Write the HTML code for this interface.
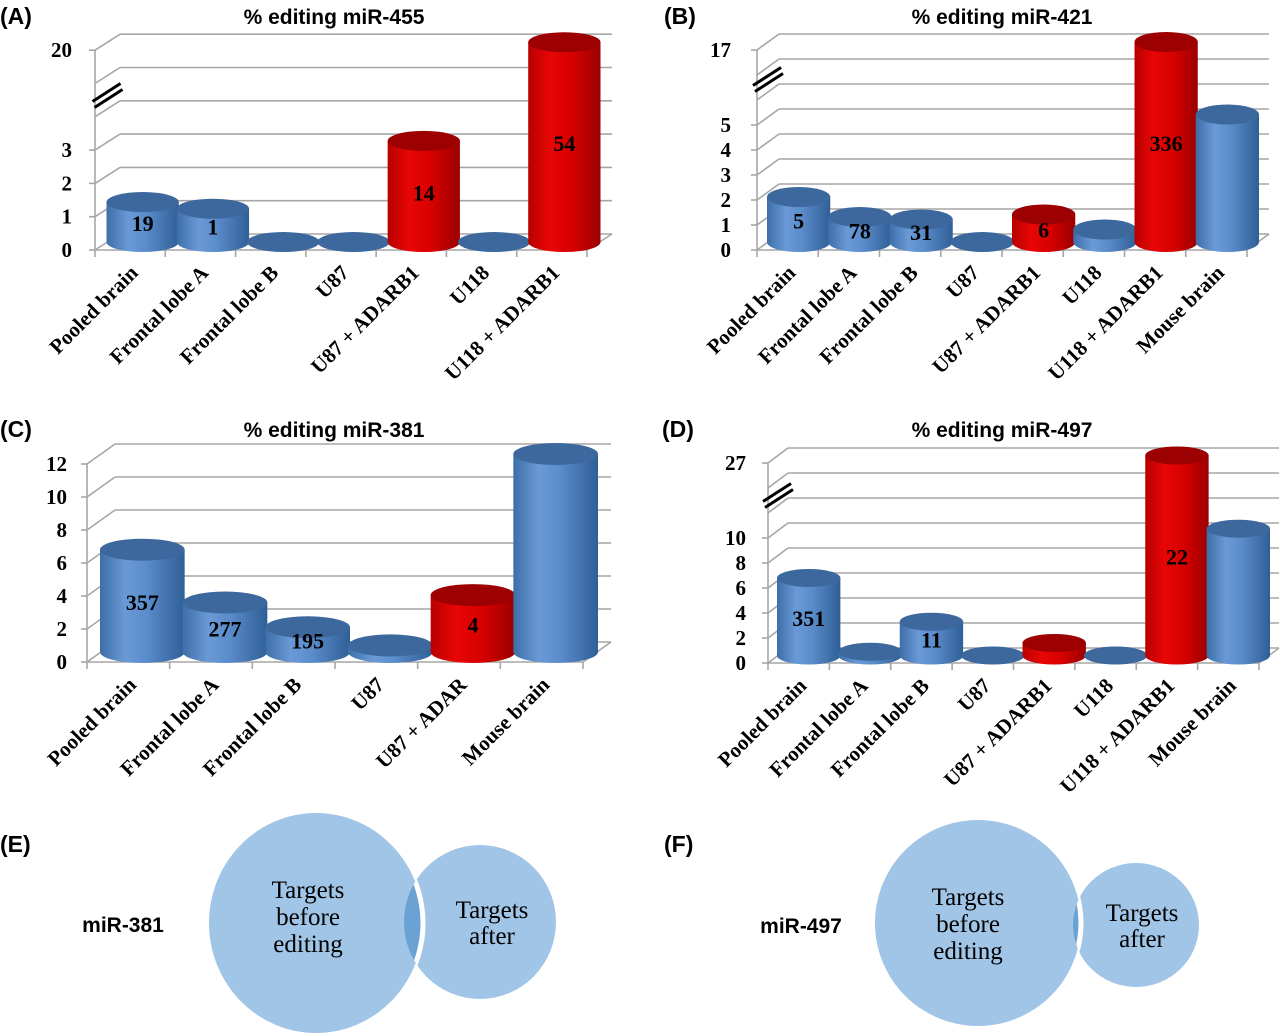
<!DOCTYPE html>
<html><head><meta charset="utf-8"><style>
html,body{margin:0;padding:0;background:#fff;}
svg{display:block;}
</style></head><body>
<svg id="fig" width="1280" height="1034" viewBox="0 0 1280 1034" xmlns="http://www.w3.org/2000/svg">
<defs>
<linearGradient id="gBlue" x1="0" x2="1" y1="0" y2="0">
<stop offset="0" stop-color="#3d6ea8"/><stop offset="0.3" stop-color="#6a9ad6"/><stop offset="0.55" stop-color="#5b8ccb"/><stop offset="1" stop-color="#2f5f96"/></linearGradient>
<linearGradient id="gRed" x1="0" x2="1" y1="0" y2="0">
<stop offset="0" stop-color="#b80000"/><stop offset="0.3" stop-color="#e80606"/><stop offset="0.6" stop-color="#d80000"/><stop offset="1" stop-color="#9a0000"/></linearGradient>
</defs>
<g id="charts"></g>
<g id="venns"></g>
</svg>
<script>
// ---- Data: panel A (miR-455)
const catsA = ['Pooled brain','Frontal lobe A','Frontal lobe B','U87','U87 + ADARB1','U118','U118 + ADARB1'];
const valsA = [1.2, 1.0, 0, 0, 3.2, 0, 20];
const redA = [0,0,0,0,1,0,1];
const barLabelsA = ['19','1','','','14','','54'];
const tickValsA = [0,1,2,3,20];
const tickLevelsA = [0,1,2,3,6];
// ---- Data: panel B (miR-421)
const catsB = ['Pooled brain','Frontal lobe A','Frontal lobe B','U87','U87 + ADARB1','U118','U118 + ADARB1','Mouse brain'];
const valsB = [1.8, 1.0, 0.9, 0, 1.1, 0.5, 17, 5.4];
const redB = [0,0,0,0,1,0,1,0];
const barLabelsB = ['5','78','31','','6','','336',''];
const tickValsB = [0,1,2,3,4,5,17];
const tickLevelsB = [0,1,2,3,4,5,8];
// ---- Data: panel C (miR-381)
const catsC = ['Pooled brain','Frontal lobe A','Frontal lobe B','U87','U87 + ADAR','Mouse brain'];
const valsC = [6.2, 3.0, 1.5, 0.4, 3.45, 12.4];
const redC = [0,0,0,0,1,0];
const barLabelsC = ['357','277','195','','4',''];
const tickValsC = [0,2,4,6,8,10,12];
const tickLevelsC = [0,1,2,3,4,5,6];
// ---- Data: panel D (miR-497)
const catsD = ['Pooled brain','Frontal lobe A','Frontal lobe B','U87','U87 + ADARB1','U118','U118 + ADARB1','Mouse brain'];
const valsD = [6.2, 0.3, 2.7, 0, 1.0, 0, 27, 10.4];
const redD = [0,0,0,0,1,0,1,0];
const barLabelsD = ['351','','11','','','','22',''];
const tickValsD = [0,2,4,6,8,10,27];
const tickLevelsD = [0,1,2,3,4,5,8];

const NS='http://www.w3.org/2000/svg';
function mk(tag, attrs, parent){const e=document.createElementNS(NS,tag);for(const k in attrs)e.setAttribute(k,attrs[k]);if(parent)parent.appendChild(e);return e;}

const panels=[
 {id:'a',letter:'(A)',lx:0,ly:24,title:'% editing miR-455',tx:334,ty:24,cats:catsA,vals:valsA,red:redA,lab:barLabelsA,tv:tickValsA,tl:tickLevelsA,
  x0:95,y0:250,x1:587,dx:25,dy:-16,lh:33.3,nl:6,tickX:72,brk:4.4,ry:10},
 {id:'b',letter:'(B)',lx:664,ly:24,title:'% editing miR-421',tx:1002,ty:24,cats:catsB,vals:valsB,red:redB,lab:barLabelsB,tv:tickValsB,tl:tickLevelsB,
  x0:757,y0:250,x1:1247,dx:22,dy:-16,lh:25,nl:8,tickX:731,brk:6.5,ry:10},
 {id:'c',letter:'(C)',lx:0,ly:437,title:'% editing miR-381',tx:334,ty:437,cats:catsC,vals:valsC,red:redC,lab:barLabelsC,tv:tickValsC,tl:tickLevelsC,
  x0:87,y0:662,x1:583,dx:28,dy:-20,lh:33,nl:6,tickX:67,brk:null,ry:11},
 {id:'d',letter:'(D)',lx:662,ly:437,title:'% editing miR-497',tx:1002,ty:437,cats:catsD,vals:valsD,red:redD,lab:barLabelsD,tv:tickValsD,tl:tickLevelsD,
  x0:768,y0:663,x1:1259,dx:20,dy:-15,lh:25,nl:8,tickX:746,brk:6.4,ry:9}
];

function levelOf(v,tv,tl){
  if(v<=tv[0])return tl[0];
  for(let i=1;i<tv.length;i++){ if(v<=tv[i]){const t=(v-tv[i-1])/(tv[i]-tv[i-1]);return tl[i-1]+t*(tl[i]-tl[i-1]);} }
  return tl[tl.length-1];
}

const root=document.getElementById('charts');
panels.forEach(p=>{
  const g=mk('g',{},root);
  
  
  const lt=mk('text',{x:p.lx,y:p.ly,'font-family':'Liberation Sans, sans-serif','font-weight':'bold','font-size':23,fill:'#000'},g);
  lt.textContent=p.letter;
  
  
  const tt=mk('text',{x:p.tx,y:p.ty,'text-anchor':'middle','font-family':'Liberation Sans, sans-serif','font-weight':'bold','font-size':21,fill:'#000'},g);
  tt.textContent=p.title;
  
  
  const yL=l=>p.y0-l*p.lh;
  const grid=mk('g',{stroke:'#a6a6a6','stroke-width':1.6,fill:'none'},g);
  
  
  for(let l=0;l<=p.nl;l++){
    const y=yL(l);
    mk('line',{x1:p.x0+p.dx,y1:y+p.dy,x2:p.x1+p.dx,y2:y+p.dy},grid);
    mk('line',{x1:p.x0,y1:y,x2:p.x0+p.dx,y2:y+p.dy},grid);
  }
  mk('line',{x1:p.x0,y1:p.y0,x2:p.x0,y2:yL(p.nl)},grid);
  mk('line',{x1:p.x0,y1:p.y0,x2:p.x1,y2:p.y0},grid);
  mk('line',{x1:p.x1,y1:p.y0,x2:p.x1+p.dx,y2:p.y0+p.dy},grid);
  const n=p.cats.length, slot=(p.x1-p.x0)/n;
  for(let i=0;i<=n;i++){const x=p.x0+i*slot;mk('line',{x1:x,y1:p.y0,x2:x,y2:p.y0+7},grid);}
  p.tv.forEach((v,i)=>{
    const y=yL(p.tl[i]);
    mk('line',{x1:p.x0-6,y1:y,x2:p.x0,y2:y},grid);
    const t=mk('text',{x:p.tickX,y:y+7,'text-anchor':'end','font-family':'Liberation Serif, serif','font-weight':'bold','font-size':21,fill:'#000'},g);
    t.textContent=String(v);
    
    
  });
  if(p.brk!==null){
    const by=yL(p.brk)+p.dy/2, bx=p.x0+p.dx/2;
    const bg=mk('g',{stroke:'#000','stroke-width':3},g);
    
    
    mk('line',{x1:bx-15,y1:by+6,x2:bx+13,y2:by-12},bg);
    mk('line',{x1:bx-13,y1:by+12,x2:bx+15,y2:by-6},bg);
  }
  p.cats.forEach((c,i)=>{
    const cx=p.x0+(i+0.5)*slot+p.dx/2;
    const rx=slot/2+1, ry=p.ry;
    const by=p.y0+p.dy/2;
    const v=p.vals[i];
    const ty=yL(levelOf(v,p.tv,p.tl))+p.dy/2;
    const bar=mk('g',{},g);
    
    
    const isRed=p.red[i]===1;
    const top=isRed?'#9c0000':'#3c689d';
    if(by-ty>1){
      mk('path',{d:`M${cx-rx},${ty} L${cx-rx},${by} A${rx},${ry} 0 0 0 ${cx+rx},${by} L${cx+rx},${ty} Z`,fill:isRed?'url(#gRed)':'url(#gBlue)'},bar);
      mk('ellipse',{cx:cx,cy:ty,rx:rx,ry:ry,fill:top},bar);
    } else {
      mk('ellipse',{cx:cx,cy:by,rx:rx,ry:ry,fill:top},bar);
    }
    if(p.lab[i]){
      const t=mk('text',{x:cx,y:(ty+by)/2+9,'text-anchor':'middle','font-family':'Liberation Serif, serif','font-weight':'bold','font-size':22,fill:'#000'},g);
      t.textContent=p.lab[i];
      
      
    }
    const lx=p.x0+(i+0.5)*slot+9, ly=p.y0+24;
    const ct=mk('text',{x:lx,y:ly,'text-anchor':'end',transform:`rotate(-45 ${lx} ${ly})`,'font-family':'Liberation Serif, serif','font-weight':'bold','font-size':21,fill:'#000'},g);
    ct.textContent=c;
    
    
  });
});

// ---- Venn diagrams
const venns=[
 {id:'e',letter:'(E)',lx:0,ly:852,name:'miR-381',nx:123,ny:932,big:[316,923,107,110],small:[480,922,76,77],bt:[308,[898,925,952]],st:[492,[918,944]]},
 {id:'f',letter:'(F)',lx:664,ly:852,name:'miR-497',nx:801,ny:933,big:[978,923,103,103],small:[1136,925,63,62],bt:[968,[905,932,959]],st:[1142,[921,947]]}
];
const vr=document.getElementById('venns');
const defs=document.querySelector('defs');
venns.forEach(v=>{
  const g=mk('g',{},vr);
  
  
  const lt=mk('text',{x:v.lx,y:v.ly,'font-family':'Liberation Sans, sans-serif','font-weight':'bold','font-size':23},g);
  lt.textContent=v.letter;
  
  
  const nt=mk('text',{x:v.nx,y:v.ny,'text-anchor':'middle','font-family':'Liberation Sans, sans-serif','font-weight':'bold','font-size':21},g);
  nt.textContent=v.name;
  
  
  const cp=mk('clipPath',{id:'clip'+v.id},defs);
  mk('ellipse',{cx:v.small[0],cy:v.small[1],rx:v.small[2],ry:v.small[3]},cp);
  const b=mk('ellipse',{cx:v.big[0],cy:v.big[1],rx:v.big[2],ry:v.big[3],fill:'#a0c5e6'},g);
  
  
  const s=mk('ellipse',{cx:v.small[0],cy:v.small[1],rx:v.small[2],ry:v.small[3],fill:'#a0c5e6'},g);
  
  
  const ov=mk('g',{'clip-path':`url(#clip${v.id})`},g);
  
  
  mk('ellipse',{cx:v.big[0],cy:v.big[1],rx:v.big[2],ry:v.big[3],fill:'#6aa2d3',stroke:'#fff','stroke-width':5},ov);
  ['Targets','before','editing'].forEach((w,i)=>{
    const t=mk('text',{x:v.bt[0],y:v.bt[1][i],'text-anchor':'middle','font-family':'Liberation Serif, serif','font-size':25},g);
    t.textContent=w;
    
    
  });
  ['Targets','after'].forEach((w,i)=>{
    const t=mk('text',{x:v.st[0],y:v.st[1][i],'text-anchor':'middle','font-family':'Liberation Serif, serif','font-size':25},g);
    t.textContent=w;
    
    
  });
});
</script>
</body></html>
